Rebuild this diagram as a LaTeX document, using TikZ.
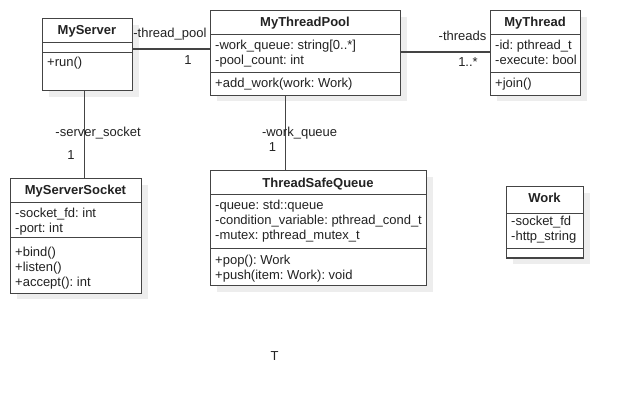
\documentclass[tikz,border=0pt]{standalone}
\usepackage{fontspec}
\setmainfont{Liberation Sans}
\usetikzlibrary{shadows}
\frenchspacing

\definecolor{linegray}{HTML}{444444}
\definecolor{textgray}{HTML}{222222}

\begin{document}
\begin{tikzpicture}[x=1pt, y=-1pt, font=\fontsize{13}{15}\selectfont, text=textgray,
		umlbox/.style={draw=linegray, line width=1.2pt, fill=white, anchor=north west, inner sep=0pt,
			drop shadow={shadow xshift=6pt, shadow yshift=-6pt, fill=black!7, opacity=1}},
		classname/.style={anchor=base, font=\fontsize{13}{15}\selectfont\bfseries},
		member/.style={anchor=base west, inner sep=0pt},
		sep/.style={draw=linegray, line width=1.2pt},
		assoc/.style={draw=linegray, line width=1.2pt},
		rolelabel/.style={anchor=base, inner sep=0pt}]
		\useasboundingbox (0,0) rectangle (623,403);

		% class frames
		\node[umlbox, minimum width=90pt, minimum height=72pt] (srv) at (42,18) {};
		\node[umlbox, minimum width=190pt, minimum height=84.7pt] (pool) at (210,10) {};
		\node[umlbox, minimum width=90pt, minimum height=84.7pt] (thr) at (490,10) {};
		\node[umlbox, minimum width=131pt, minimum height=114.4pt] (sock) at (10,178.3) {};
		\node[umlbox, minimum width=216pt, minimum height=115pt] (queue) at (210,170) {};
		\node[umlbox, minimum width=77pt, minimum height=71.3pt] (work) at (506,186) {};

		% compartments
		\foreach \n/\a/\b in {srv/42.7/52.3, pool/34.7/72.7, thr/34.7/72.7, sock/202.7/237.7, queue/194.7/248.3, work/213.3/248.3} {
			\draw[sep] (\n.west |- 0,\a) -- (\n.east |- 0,\a);
			\draw[sep] (\n.west |- 0,\b) -- (\n.east |- 0,\b);
		}

		% names
		\node[classname] (srv-name) at (87,35) {MyServer};
		\node[classname] (pool-name) at (305,27) {MyThreadPool};
		\node[classname] (thr-name) at (535,27) {MyThread};
		\node[classname] (sock-name) at (75.5,195) {MyServerSocket};
		\node[classname] (queue-name) at (318,187.3) {ThreadSafeQueue};
		\node[classname] (work-name) at (544.5,202.7) {Work};

		% members
		\foreach \t [count=\i] in {+run()}
			\node[member] at (47,{52+15*\i}) {\t};
		\foreach \t [count=\i] in {-work\_queue: string[0..*], -pool\_count: int}
			\node[member] at (215,{35+15*\i}) {\t};
		\foreach \t [count=\i] in {+add\_work(work: Work)}
			\node[member] at (215,{73+15*\i}) {\t};
		\foreach \t [count=\i] in {-id: pthread\_t, -execute: bool}
			\node[member] at (495,{35+15*\i}) {\t};
		\foreach \t [count=\i] in {+join()}
			\node[member] at (495,{73+15*\i}) {\t};
		\foreach \t [count=\i] in {-socket\_fd: int, -port: int}
			\node[member] at (15,{202.7+15*\i}) {\t};
		\foreach \t [count=\i] in {+bind(), +listen(), +accept(): int}
			\node[member] at (15,{241+15*\i}) {\t};
		\foreach \t [count=\i] in {-queue: std::queue, -condition\_variable: pthread\_cond\_t, -mutex: pthread\_mutex\_t}
			\node[member] at (215,{195+15*\i}) {\t};
		\foreach \t [count=\i] in {+pop(): Work, +push(item: Work): void}
			\node[member] at (215,{249+15*\i}) {\t};
		\foreach \t [count=\i] in {-socket\_fd, -http\_string}
			\node[member] at (511,{210.5+15*\i}) {\t};

		% associations
		\draw[assoc] (srv.east |- 0,49) -- (pool.west |- 0,49)
			node[rolelabel, anchor=base east, at end, xshift=-3pt, yshift=11pt] (pool-role) {-thread\_pool}
			node[rolelabel, at end, xshift=-22pt, yshift=-16pt] (pool-mult) {1};
		\draw[assoc] (pool.east |- 0,52) -- (thr.west |- 0,52)
			node[rolelabel, anchor=base east, at end, xshift=-3pt, yshift=11pt] (thr-role) {-threads}
			node[rolelabel, at end, xshift=-22pt, yshift=-14.5pt] (thr-mult) {1..*};
		\draw[assoc] ([xshift=-3pt]srv.south) -- ([xshift=-3pt]srv.south |- sock.north)
			node[rolelabel, at end, xshift=13.5pt, yshift=41.6pt] (sock-role) {-server\_socket}
			node[rolelabel, at end, xshift=-13.5pt, yshift=19pt] (sock-mult) {1};
		\draw[assoc] ([xshift=-20pt]pool.south) -- ([xshift=-20pt]pool.south |- queue.north)
			node[rolelabel, at end, xshift=14pt, yshift=33.7pt] (queue-role) {-work\_queue}
			node[rolelabel, at end, xshift=-13pt, yshift=18.3pt] (queue-mult) {1};

		\node[rolelabel] (stray) at (274.5,360.7) {T};
	\end{tikzpicture}
\end{document}
